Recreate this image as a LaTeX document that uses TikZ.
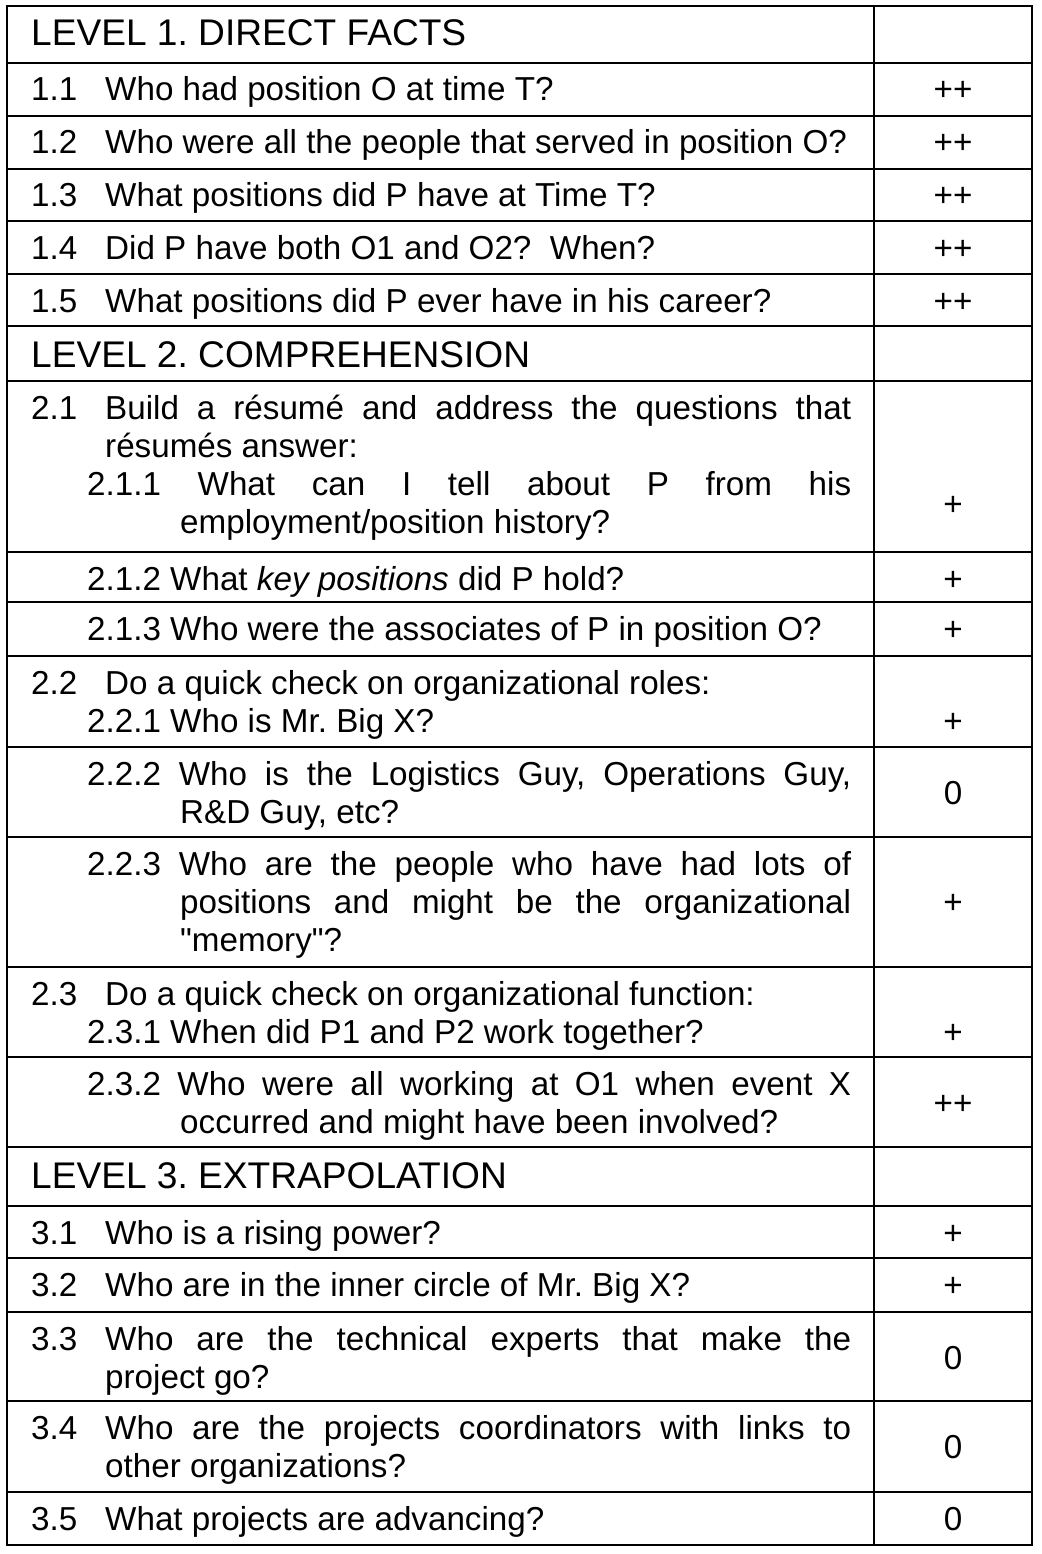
\documentclass[tikz,border=0pt]{standalone}
\usepackage{fontspec}
\setmainfont{Liberation Sans}
\newfontfamily\rawfont{Liberation Sans}
\usetikzlibrary{positioning}

\newcommand{\bodyfont}{\fontsize{33.2}{38.3}\selectfont\frenchspacing}
\newcommand{\headfont}{\fontsize{37.1}{42}\selectfont\frenchspacing}
\newcommand{\just}[2]{\makebox[#1pt][s]{#2}}
\newcommand{\dq}{{\rawfont"}}

\begin{document}
\begin{tikzpicture}[x=1pt, y=-1pt, line width=2.4pt]
  \tikzstyle{txt} = [anchor=base west, inner sep=0pt, font=\bodyfont]
  \tikzstyle{head} = [txt, font=\headfont]
  \tikzstyle{val} = [anchor=base, inner sep=0pt, font=\bodyfont]
  \useasboundingbox (0,0) rectangle (1041,1554);

  % table rules
  \draw (7,6) rectangle (1032,1545);
  \draw (874,6) -- (874,1545);
  \foreach \y in {63,116,169,221,274,326,381,552,602,656,747,837,967,1057,1147,1206,1258,1312,1401,1492}
    \draw (7,\y) -- (1032,\y);

  % level 1
  \node[head] (h1) at (30,46) {LEVEL 1. DIRECT FACTS};
  \foreach \n/\y/\q [count=\i] in {1.1/101/{Who had position O at time T?},
      1.2/154/{Who were all the people that served in position O?},
      1.3/207/{What positions did P have at Time T?},
      1.4/259/{Did P have both O1 and O2?\ \ When?},
      1.5/312/{What positions did P ever have in his career?}}
  {
    \node[txt] (n1\i) at (30,\y) {\n};
    \node[txt] (q1\i) at (104,\y) {\q};
    \node[val] (v1\i) at (953,\y) {++};
  }

  % level 2
  \node[head] (h2) at (30,367) {LEVEL 2. COMPREHENSION};
  \node[txt] (n21) at (30,419) {2.1};
  \node[txt] (q21a) at (104,419) {\just{746}{Build a résumé and address the questions that}};
  \node[txt] (q21b) at (104,457.3) {résumés answer:};
  \node[txt] (q211a) at (86,495.6) {\just{764}{2.1.1 What can I tell about P from his}};
  \node[txt] (q211b) at (179,533.9) {employment/position history?};
  \node[val] (v21) at (953,515) {+};
  \node[txt] (q212) at (86,590) {2.1.2 What \textit{key positions} did P hold?};
  \node[val] (v212) at (953,590) {+};
  \node[txt] (q213) at (86,640) {2.1.3 Who were the associates of P in position O?};
  \node[val] (v213) at (953,640) {+};

  \node[txt] (n22) at (30,694) {2.2};
  \node[txt] (q22) at (104,694) {Do a quick check on organizational roles:};
  \node[txt] (q221) at (86,732.3) {2.2.1 Who is Mr. Big X?};
  \node[val] (v22) at (953,732) {+};
  \node[txt] (q222a) at (86,785) {\just{764}{2.2.2 Who is the Logistics Guy, Operations Guy,}};
  \node[txt] (q222b) at (179,823.3) {R\&D Guy, etc?};
  \node[val] (v222) at (953,804) {0};
  \node[txt] (q223a) at (86,875) {\just{764}{2.2.3 Who are the people who have had lots of}};
  \node[txt] (q223b) at (179,913.3) {\just{671}{positions and might be the organizational}};
  \node[txt] (q223c) at (179,951.6) {\dq memory\dq?};
  \node[val] (v223) at (953,913) {+};

  \node[txt] (n23) at (30,1005) {2.3};
  \node[txt] (q23) at (104,1005) {Do a quick check on organizational function:};
  \node[txt] (q231) at (86,1043.3) {2.3.1 When did P1 and P2 work together?};
  \node[val] (v23) at (953,1043) {+};
  \node[txt] (q232a) at (86,1095) {\just{764}{2.3.2 Who were all working at O1 when event X}};
  \node[txt] (q232b) at (179,1133.3) {occurred and might have been involved?};
  \node[val] (v232) at (953,1114) {++};

  % level 3
  \node[head] (h3) at (30,1188) {LEVEL 3. EXTRAPOLATION};
  \node[txt] (n31) at (30,1244) {3.1};
  \node[txt] (q31) at (104,1244) {Who is a rising power?};
  \node[val] (v31) at (953,1244) {+};
  \node[txt] (n32) at (30,1296) {3.2};
  \node[txt] (q32) at (104,1296) {Who are in the inner circle of Mr. Big X?};
  \node[val] (v32) at (953,1296) {+};
  \node[txt] (n33) at (30,1350) {3.3};
  \node[txt] (q33a) at (104,1350) {\just{746}{Who are the technical experts that make the}};
  \node[txt] (q33b) at (104,1388.3) {project go?};
  \node[val] (v33) at (953,1369) {0};
  \node[txt] (n34) at (30,1439) {3.4};
  \node[txt] (q34a) at (104,1439) {\just{746}{Who are the projects coordinators with links to}};
  \node[txt] (q34b) at (104,1477.3) {other organizations?};
  \node[val] (v34) at (953,1458) {0};
  \node[txt] (n35) at (30,1530) {3.5};
  \node[txt] (q35) at (104,1530) {What projects are advancing?};
  \node[val] (v35) at (953,1530) {0};
\end{tikzpicture}
\end{document}
